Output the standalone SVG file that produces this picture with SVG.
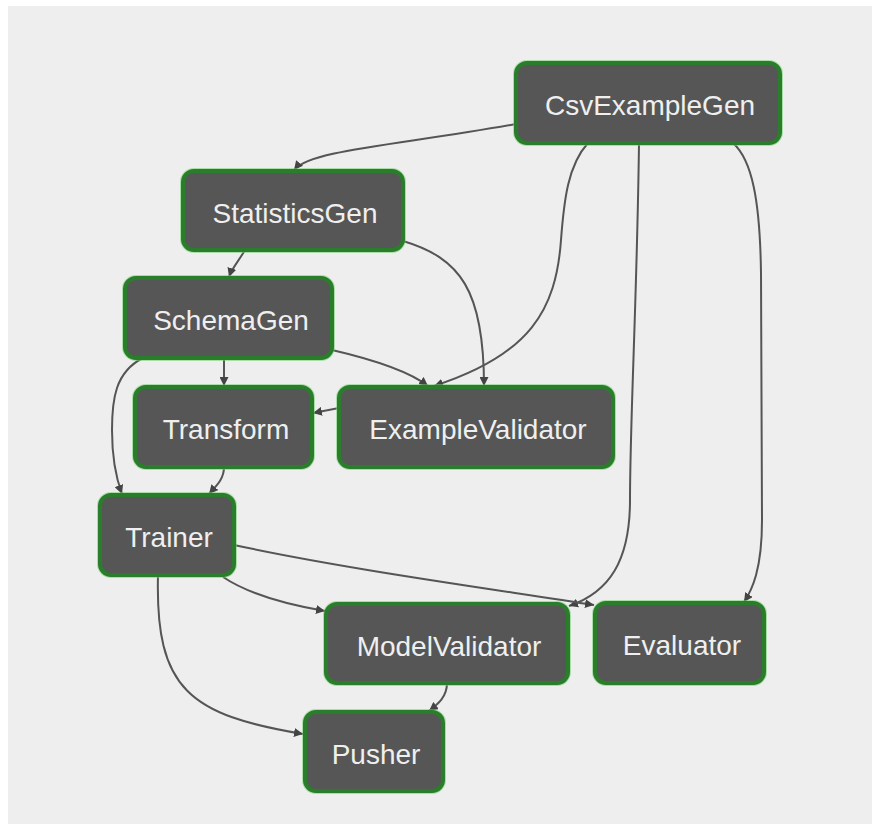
<svg xmlns="http://www.w3.org/2000/svg" width="872" height="824" viewBox="0 0 872 824">
  <style>
    .node rect { fill: #565656; stroke: #2a7d2a; stroke-width: 4; }
    .node rect.halo { fill: none; stroke: #72cf6f; stroke-width: 6; opacity: 0.55; }
    .node text { fill: #efefef; font-family: "Liberation Sans", Arial, Helvetica, sans-serif; font-size: 28px; text-anchor: middle; }
    .edges path { fill: none; stroke: #555555; stroke-width: 2; marker-end: url(#arrow); }
  </style>
  <defs>
    <marker id="arrow" markerUnits="userSpaceOnUse" viewBox="0 0 10 10" refX="10" refY="5" markerWidth="9" markerHeight="9" orient="auto">
      <path d="M0,0 L10,5 L0,10 z" fill="#444444"/>
    </marker>
  </defs>

  <rect x="0" y="0" width="872" height="824" fill="#ffffff"/>
  <rect x="8" y="6" width="864" height="818" fill="#eeeeee"/>

  <g class="edges" id="connectors">
    <path d="M516,124 C400,145 310,150 294,170"/>
    <path d="M245,250 C238,262 232,268 229,277"/>
    <path d="M403,241 C460,258 484,290 484,386"/>
    <path d="M588,143 C568,165 564,200 561,240 C556,310 530,355 434,386"/>
    <path d="M332,350 C375,360 410,372 428,386"/>
    <path d="M224,358 L224,386"/>
    <path d="M339,408 L313,413"/>
    <path d="M143,358 C115,372 112,400 112,430 C112,460 116,478 122,494"/>
    <path d="M224,467 C224,480 215,487 209,494"/>
    <path d="M639,143 C637,300 630,420 630,500 C630,560 610,592 569,606"/>
    <path d="M733,143 C752,160 760,200 761,273 L762,520 C762,570 752,590 744,602"/>
    <path d="M234,545 C350,570 500,590 594,605"/>
    <path d="M223,577 C250,595 290,605 325,611"/>
    <path d="M158,575 C155,690 190,715 303,734"/>
    <path d="M447,683 C447,697 438,704 429,711"/>
  </g>

  <g class="node" id="CsvExampleGen">
    <rect class="halo" x="516" y="63" width="264" height="80" rx="11"/>
    <rect x="516" y="63" width="264" height="80" rx="11"/>
    <text x="650" y="115">CsvExampleGen</text>
  </g>
  <g class="node" id="StatisticsGen">
    <rect class="halo" x="183" y="171" width="220" height="79" rx="11"/>
    <rect x="183" y="171" width="220" height="79" rx="11"/>
    <text x="295" y="223">StatisticsGen</text>
  </g>
  <g class="node" id="SchemaGen">
    <rect class="halo" x="125" y="278" width="207" height="80" rx="11"/>
    <rect x="125" y="278" width="207" height="80" rx="11"/>
    <text x="231" y="330">SchemaGen</text>
  </g>
  <g class="node" id="Transform">
    <rect class="halo" x="135" y="387" width="177" height="80" rx="11"/>
    <rect x="135" y="387" width="177" height="80" rx="11"/>
    <text x="226" y="439">Transform</text>
  </g>
  <g class="node" id="ExampleValidator">
    <rect class="halo" x="339" y="387" width="274" height="80" rx="11"/>
    <rect x="339" y="387" width="274" height="80" rx="11"/>
    <text x="478" y="439">ExampleValidator</text>
  </g>
  <g class="node" id="Trainer">
    <rect class="halo" x="100" y="495" width="134" height="80" rx="11"/>
    <rect x="100" y="495" width="134" height="80" rx="11"/>
    <text x="169" y="547">Trainer</text>
  </g>
  <g class="node" id="ModelValidator">
    <rect class="halo" x="326" y="604" width="242" height="79" rx="11"/>
    <rect x="326" y="604" width="242" height="79" rx="11"/>
    <text x="449" y="656">ModelValidator</text>
  </g>
  <g class="node" id="Evaluator">
    <rect class="halo" x="595" y="603" width="169" height="80" rx="11"/>
    <rect x="595" y="603" width="169" height="80" rx="11"/>
    <text x="682" y="655">Evaluator</text>
  </g>
  <g class="node" id="Pusher">
    <rect class="halo" x="305" y="712" width="138" height="79" rx="11"/>
    <rect x="305" y="712" width="138" height="79" rx="11"/>
    <text x="376" y="764">Pusher</text>
  </g>
</svg>
